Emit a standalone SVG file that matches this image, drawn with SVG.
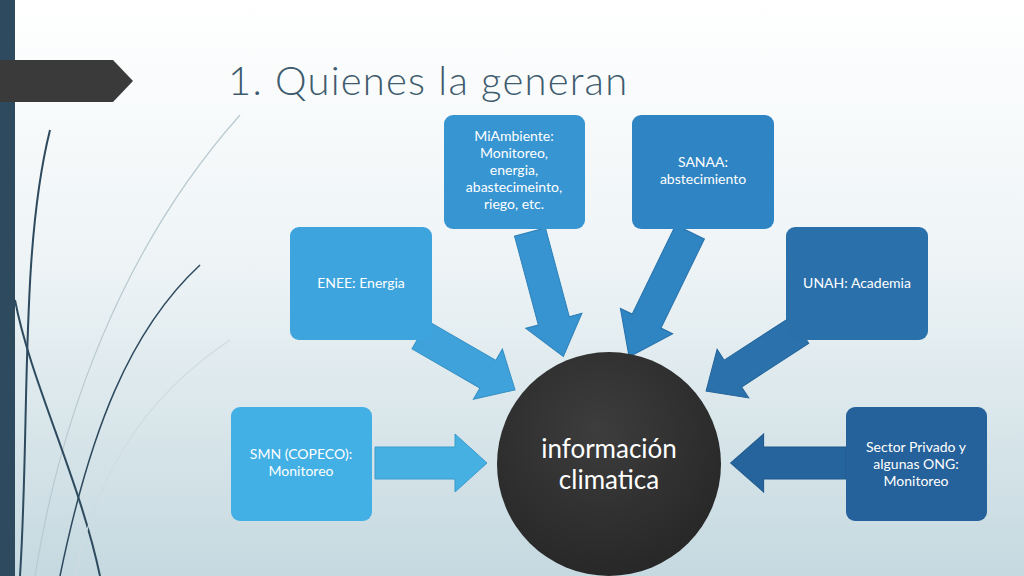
<svg xmlns="http://www.w3.org/2000/svg" width="1024" height="576" viewBox="0 0 1024 576">
<defs>
<linearGradient id="bg" x1="0" y1="0" x2="0" y2="1"><stop offset="0" stop-color="#ffffff"/><stop offset="0.45" stop-color="#eef4f6"/><stop offset="1" stop-color="#c5d9e0"/></linearGradient>
<radialGradient id="cg" cx="0.45" cy="0.35" r="0.7"><stop offset="0" stop-color="#3d3d3d"/><stop offset="1" stop-color="#262626"/></radialGradient>
<path id="arr" d="M0,-16 L80,-16 L80,-29 L112,0 L80,29 L80,16 L0,16 Z"/>
</defs>
<style>
.t{font-family:"Lato","Liberation Sans",sans-serif;font-size:14px;fill:#ffffff;text-anchor:middle}
.big{font-size:26px}
.deco{fill:none;stroke-width:1.2}
</style>
<rect width="1024" height="576" fill="url(#bg)"/>
<rect x="0" y="0" width="15" height="576" fill="#2d4a5e"/>
<g class="deco">
<path d="M20,576 C30,420 20,250 50,130" stroke="#2d4a5e" stroke-width="2"/>
<path d="M35,576 C60,420 120,250 240,115" stroke="#b9c9d0"/>
<path d="M60,576 C90,430 130,330 200,265" stroke="#2d4a5e" stroke-width="1.5"/>
<path d="M100,576 C80,480 30,380 15,300" stroke="#2d4a5e" stroke-width="2"/>
<path d="M75,576 C95,480 140,400 230,340" stroke="#d0dce1"/>
</g>
<path d="M0,60 L113,60 L133,81 L113,102 L0,102 Z" fill="#3a3a3a"/>
<text x="228" y="95" font-family="Lato,'Liberation Sans',sans-serif" font-size="40" font-weight="300" letter-spacing="1.2" fill="#3f5b6e">1. Quienes la generan</text>
<g id="connectors">
<use href="#arr" transform="translate(375,463)" fill="#47b0e3" stroke="#3a9bcd"/>
<use href="#arr" transform="translate(420,335) rotate(30) scale(0.98,1)" fill="#3fa2da" stroke="#348fc4"/>
<use href="#arr" transform="translate(530,232) rotate(75) scale(1.15,1)" fill="#3794d0" stroke="#2e82ba"/>
<use href="#arr" transform="translate(690,232) rotate(116) scale(1.24,1)" fill="#2f84c2" stroke="#2873ad"/>
<use href="#arr" transform="translate(800,330) rotate(147) scale(1.0,1)" fill="#2b72ac" stroke="#24649a"/>
<use href="#arr" transform="translate(846,463) rotate(180) scale(1.03,1)" fill="#25649c" stroke="#1f578a"/>
</g>
<g id="smn"><rect x="231" y="407" width="141" height="114" rx="9" fill="#42b0e4"/><text class="t" x="301" y="459">SMN (COPECO):</text><text class="t" x="301" y="476">Monitoreo</text></g>
<g id="enee"><rect x="290" y="227" width="142" height="113" rx="9" fill="#3ea4dd"/><text class="t" x="361" y="288">ENEE: Energia</text></g>
<g id="miambiente"><rect x="444" y="115" width="141" height="114" rx="9" fill="#3795d2"/><text class="t" x="514" y="141">MiAmbiente:</text><text class="t" x="514" y="158">Monitoreo,</text><text class="t" x="514" y="175">energia,</text><text class="t" x="514" y="192">abastecimeinto,</text><text class="t" x="514" y="209">riego, etc.</text></g>
<g id="sanaa"><rect x="632" y="115" width="142" height="114" rx="9" fill="#2f84c3"/><text class="t" x="703" y="167">SANAA:</text><text class="t" x="703" y="184">abstecimiento</text></g>
<g id="unah"><rect x="786" y="227" width="142" height="113" rx="9" fill="#2a70ab"/><text class="t" x="857" y="288">UNAH: Academia</text></g>
<g id="sector"><rect x="846" y="407" width="141" height="114" rx="9" fill="#25619a"/><text class="t" x="916" y="452">Sector Privado y</text><text class="t" x="916" y="469">algunas ONG:</text><text class="t" x="916" y="486">Monitoreo</text></g>
<g id="centro"><circle cx="609" cy="464" r="112" fill="url(#cg)"/><text class="t big" x="609" y="458">información</text><text class="t big" x="609" y="489">climatica</text></g>
</svg>
